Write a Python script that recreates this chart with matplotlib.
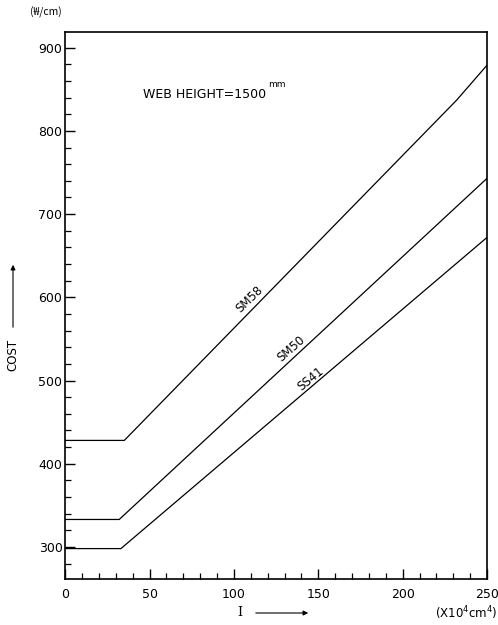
import matplotlib
matplotlib.use("Agg")
import matplotlib.pyplot as plt
from matplotlib.ticker import MultipleLocator

# Data
x_ss41 = [0, 33, 250]
y_ss41 = [298, 298, 672]
x_sm50 = [0, 32, 250]
y_sm50 = [333, 333, 743]
x_sm58 = [0, 35, 232, 250]
y_sm58 = [428, 428, 837, 879]

series_names = ["SM58", "SM50", "SS41"]
label_pos = [(109, 598), (134, 538), (145.5, 502)]
label_rot = [44, 41, 39]

xticks = [0, 50, 100, 150, 200, 250]
yticks = [300, 400, 500, 600, 700, 800, 900]

plt.rcParams['font.family'] = ['DejaVu Sans']

fig = plt.figure(figsize=(4.98, 6.25), dpi=100)
ax = fig.add_axes([0.131, 0.073, 0.847, 0.876])

for xs, ys in [(x_sm58, y_sm58), (x_sm50, y_sm50), (x_ss41, y_ss41)]:
    ax.plot(xs, ys, color='black', lw=0.9)

for name, (lx, ly), rot in zip(series_names, label_pos, label_rot):
    ax.text(lx, ly, name, rotation=rot, ha='center', va='center', fontsize=8.5)

ax.set_xlim(0, 250)
ax.set_ylim(261, 919)
ax.set_xticks(xticks)
ax.set_yticks(yticks)
ax.xaxis.set_minor_locator(MultipleLocator(10))
ax.yaxis.set_minor_locator(MultipleLocator(20))
ax.tick_params(which='major', direction='in', length=7, width=1.0, labelsize=9, top=False, right=False)
ax.tick_params(which='minor', direction='in', length=4.5, width=0.9, top=False, right=False)
ax.tick_params(axis='x', which='major', pad=6)
ax.tick_params(axis='y', which='major', pad=2)
for s in ax.spines.values():
    s.set_linewidth(1.2)

ax.text(46, 844, "WEB HEIGHT=1500", fontsize=9, ha='left', va='center')
ax.text(120, 856, "mm", fontsize=6.5, ha='left', va='center')

fig.text(30/498, 1-12/625, "(\u20a9/cm)", fontsize=7.5, ha='left', va='center',
         family=['Noto Sans CJK KR', 'DejaVu Sans'])

# Y axis title with arrow
fig.text(13/498, 1-355/625, "COST", rotation=90, fontsize=8.5, ha='center', va='center')
fig.add_artist(matplotlib.patches.FancyArrowPatch((13/498, 1-330/625), (13/498, 1-262/625),
               transform=fig.transFigure, arrowstyle='-|>', mutation_scale=7, lw=0.8, color='black'))

# X axis title with arrow
fig.text(240/498, 1-613/625, "I", fontsize=9, ha='center', va='center', family='DejaVu Serif')
fig.add_artist(matplotlib.patches.FancyArrowPatch((253/498, 1-613/625), (311/498, 1-613/625),
               transform=fig.transFigure, arrowstyle='-|>', mutation_scale=7, lw=0.8, color='black'))
fig.text(435/498, 1-613/625, "(X10$^4$cm$^4$)", fontsize=8.5, ha='left', va='center')

fig.savefig("out.png", dpi=100)
